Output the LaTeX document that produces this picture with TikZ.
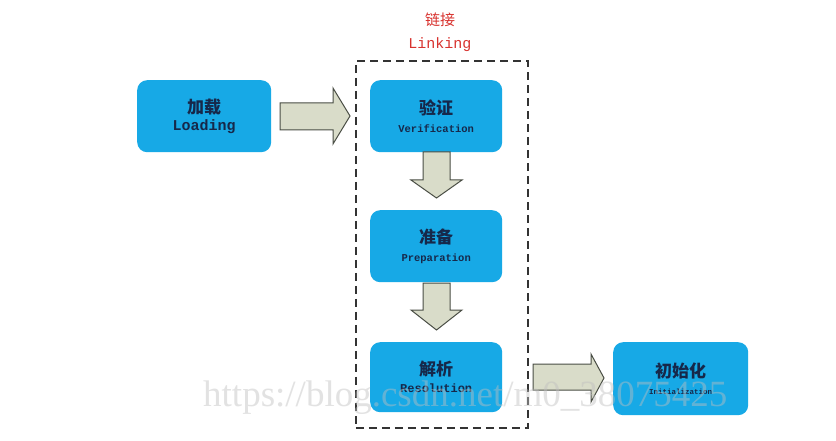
\documentclass[tikz,border=0pt]{standalone}
\usepackage{fontspec}
\setmainfont{Liberation Serif}
\setmonofont{Liberation Mono}
\newfontfamily\cjk{Noto Sans CJK SC}
\newcommand\zhlabel{\cjk\fontsize{17}{19}\selectfont\bfseries}
\begin{document}
\begin{tikzpicture}[x=1pt,y=-1pt,
  stagebox/.style={draw=none,fill=boxblue,rounded corners=10pt,minimum width=134pt,minimum height=72pt,anchor=north west,inner sep=0pt,align=center,text=textnavy},
  bigarrow/.style={draw=arrowline,fill=arrowfill,line width=1pt},
]
\definecolor{boxblue}{HTML}{17A9E6}
\definecolor{textnavy}{HTML}{16284A}
\definecolor{arrowfill}{HTML}{D9DCC9}
\definecolor{arrowline}{HTML}{4A4E45}
\definecolor{linkred}{HTML}{D8322E}
\useasboundingbox (0,0) rectangle (836,441);
\fill[white] (0,0) rectangle (836,441);
% dashed linking frame
\node[draw=black!80,line width=1.8pt,dash pattern=on 8pt off 5pt,minimum width=172pt,minimum height=367pt,anchor=north west,inner sep=0pt] (frame) at (355,60) {};
\node[text=linkred,align=center,font=\cjk\fontsize{15}{17}\selectfont] (linkzh) at (440,20) {链接};
\node[text=linkred,font=\ttfamily\fontsize{15}{17}\selectfont] (linken) at (440,45) {Linking};
% stages
\node[stagebox] (load) at (137,80) {{\zhlabel 加载}\\[4pt]{\ttfamily\bfseries\fontsize{15}{17}\selectfont Loading}};
\node[stagebox,minimum width=132pt] (verif) at (370,80) {{\zhlabel 验证}\\[6pt]{\ttfamily\bfseries\fontsize{10.5}{12}\selectfont Verification}};
\node[stagebox,minimum width=132pt] (prep) at (370,210) {{\zhlabel 准备}\\[6pt]{\ttfamily\bfseries\fontsize{10.5}{12}\selectfont Preparation}};
\node[stagebox,minimum width=132pt,minimum height=70pt] (resol) at (370,342) {{\zhlabel 解析}\\[5pt]{\ttfamily\bfseries\fontsize{12}{14}\selectfont Resolution}};
\node[stagebox,minimum width=135pt,minimum height=73pt] (init) at (613,342) {{\zhlabel 初始化}\\[5pt]{\ttfamily\bfseries\fontsize{7.5}{9}\selectfont Initialization}};
% block arrows
\draw[bigarrow] (280,103) -- (333,103) -- (333,88) -- (350,116) -- (333,144) -- (333,130) -- (280,130) -- cycle;
\draw[bigarrow] (423,152) -- (450,152) -- (450,180) -- (462,180) -- (436.5,198) -- (411,180) -- (423,180) -- cycle;
\draw[bigarrow] (423,283) -- (450,283) -- (450,310) -- (462,310) -- (436.5,330) -- (411,310) -- (423,310) -- cycle;
\draw[bigarrow] (533,364) -- (591,364) -- (591,354) -- (604,378) -- (591,402) -- (591,390) -- (533,390) -- cycle;
% watermark
\node[text=gray!50,opacity=0.45,font=\fontsize{37}{39}\selectfont,anchor=west,inner sep=0pt] (wm) at (203,398) {https://blog.csdn.net/m0\_38075425};
\end{tikzpicture}
\end{document}
